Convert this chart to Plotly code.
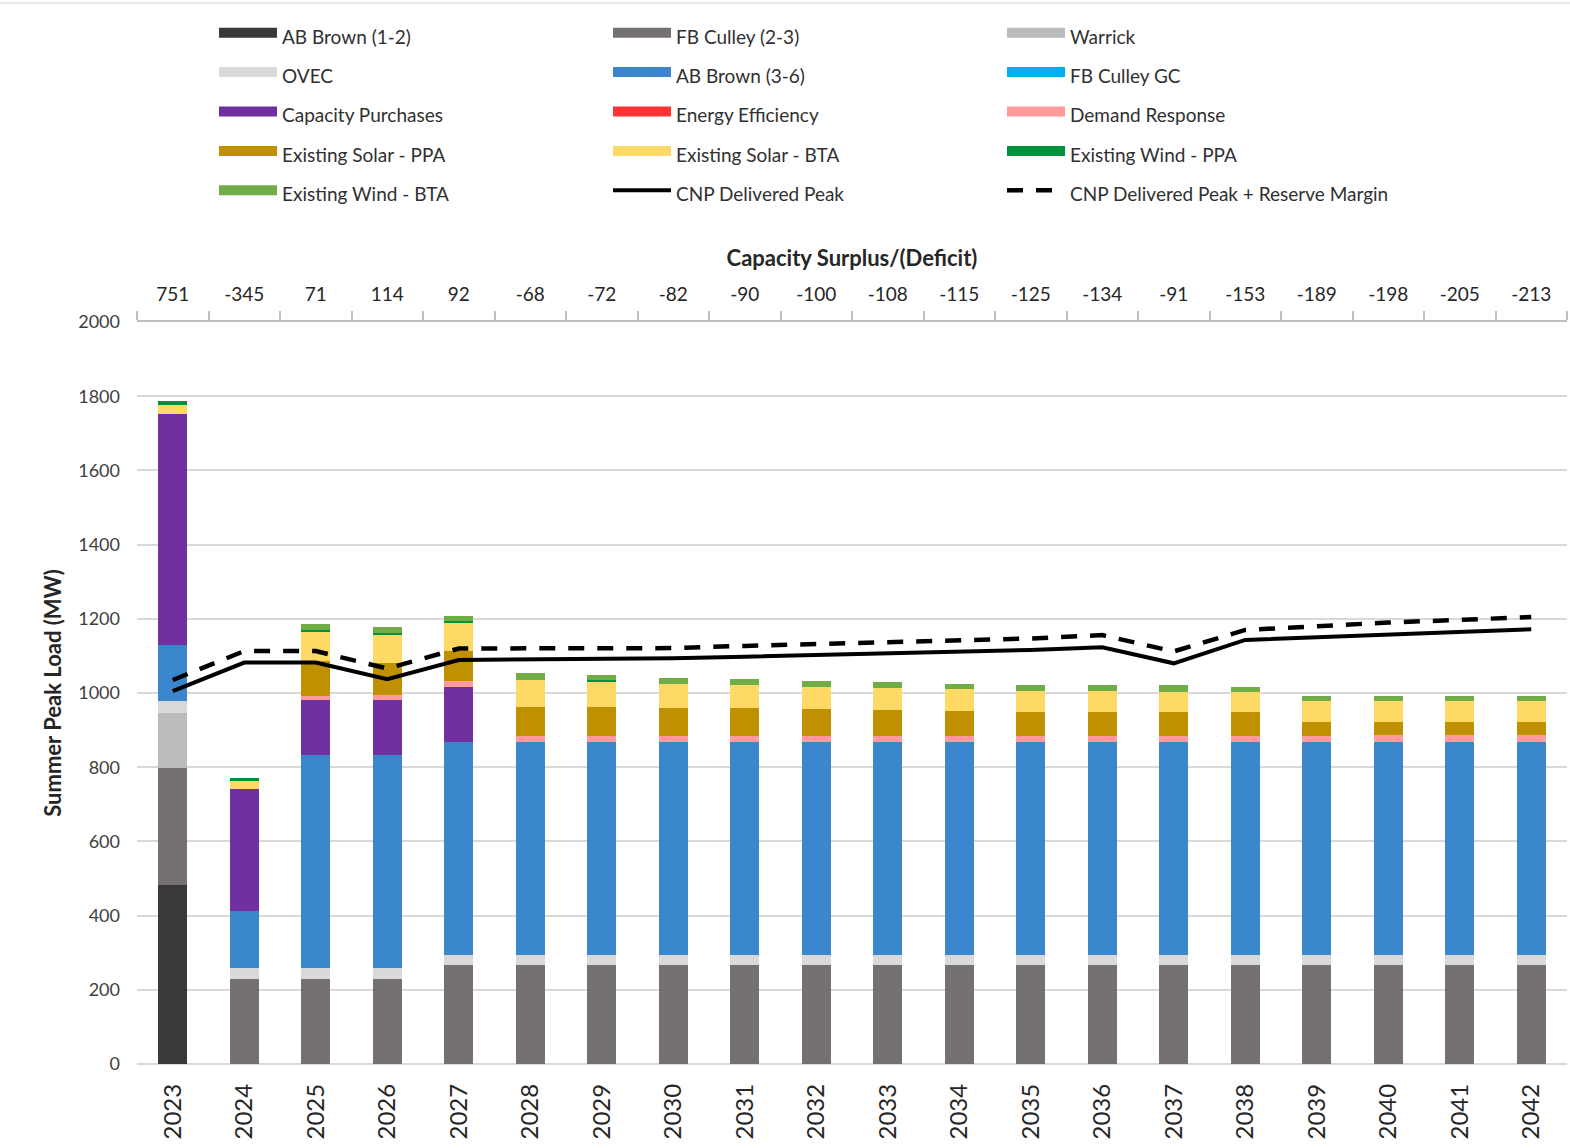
import plotly.graph_objects as go

years = [str(y) for y in range(2023, 2043)]
surplus_labels = ["751", "-345", "71", "114", "92", "-68", "-72", "-82", "-90", "-100",
                  "-108", "-115", "-125", "-134", "-91", "-153", "-189", "-198", "-205", "-213"]

ab_brown_12 = [482] + [0] * 19
fb_culley_23 = [316, 230, 230, 230] + [266] * 16
warrick = [148] + [0] * 19
ovec = [32, 30, 30, 30] + [28] * 16
ab_brown_36 = [151, 153, 572, 572] + [574] * 16
fb_culley_gc = [0] * 20
capacity_purchases = [622, 327, 149, 149, 149] + [0] * 15
energy_efficiency = [0] * 20
demand_response = [0, 0, 12, 14, 15, 16, 16, 16, 16, 17, 17, 17, 17, 17, 17, 17, 17, 20, 20, 20]
solar_ppa = [0, 0, 92, 86, 82, 79, 77, 76, 76, 72, 68, 67, 65, 65, 65, 65, 37, 34, 34, 34]
solar_bta = [25, 23, 81, 75, 74, 72, 69, 64, 61, 59, 60, 58, 56, 56, 54, 53, 56, 56, 56, 56]
wind_ppa = [10, 7, 3, 6, 6, 0, 4, 0, 0, 0, 0, 0, 0, 0, 0, 0, 0, 0, 0, 0]
wind_bta = [0, 0, 18, 15, 14, 18, 15, 16, 16, 16, 16, 15, 16, 16, 17, 14, 14, 14, 14, 14]

cnp_peak = [1005, 1082, 1082, 1037, 1089, 1090, 1092, 1094, 1098, 1102,
            1106, 1110, 1116, 1123, 1080, 1143, 1150, 1157, 1165, 1172]
cnp_peak_rm = [1035, 1113, 1113, 1066, 1120, 1120, 1120, 1121, 1127, 1132,
               1137, 1140, 1147, 1156, 1112, 1170, 1181, 1190, 1197, 1205]

series = [
    ("AB Brown (1-2)", ab_brown_12, "#3B3937"),
    ("FB Culley (2-3)", fb_culley_23, "#767171"),
    ("Warrick", warrick, "#BBBBBB"),
    ("OVEC", ovec, "#D9D9D9"),
    ("AB Brown (3-6)", ab_brown_36, "#3B87CD"),
    ("FB Culley GC", fb_culley_gc, "#00B0F0"),
    ("Capacity Purchases", capacity_purchases, "#7030A0"),
    ("Energy Efficiency", energy_efficiency, "#FF3333"),
    ("Demand Response", demand_response, "#FF9B9B"),
    ("Existing Solar - PPA", solar_ppa, "#BF9000"),
    ("Existing Solar - BTA", solar_bta, "#FFD966"),
    ("Existing Wind - PPA", wind_ppa, "#00913F"),
    ("Existing Wind - BTA", wind_bta, "#70AD47"),
]

FONT = "Lato"
LEG = '<span style="font-size:19px">%s</span>'

fig = go.Figure()
for name, vals, col in series:
    fig.add_trace(go.Bar(x=years, y=vals, name=name, marker=dict(color=col, line=dict(width=0)),
                         showlegend=False, legendgroup=name))
for name, vals, col in series:
    fig.add_trace(go.Scatter(x=[None], y=[None], mode="lines", name=LEG % name,
                             line=dict(color=col, width=11), legendgroup=name))

fig.add_trace(go.Scatter(x=years, y=cnp_peak, mode="lines", name=LEG % "CNP Delivered Peak",
                         line=dict(color="black", width=4)))
fig.add_trace(go.Scatter(x=years, y=cnp_peak_rm, mode="lines",
                         name=LEG % "CNP Delivered Peak + Reserve Margin",
                         line=dict(color="black", width=4.5, dash="16px,13px")))
fig.add_trace(go.Scatter(x=years, y=cnp_peak_rm, xaxis="x2", mode="lines", opacity=0,
                         showlegend=False, hoverinfo="skip"))

fig.update_layout(
    width=1570, height=1148,
    margin=dict(l=137, r=3, t=322, b=84),
    barmode="stack", bargap=0.6,
    plot_bgcolor="white", paper_bgcolor="white",
    font=dict(family=FONT, color="#262626"),
    legend=dict(orientation="h", xref="container", yref="container",
                x=214 / 1570, y=1 - 8 / 1148, xanchor="left", yanchor="top",
                entrywidth=321, entrywidthmode="pixels", itemwidth=58,
                bgcolor="rgba(0,0,0,0)",
                font=dict(size=28, family=FONT, color="#303030"), traceorder="normal"),
    xaxis=dict(type="category", categoryorder="array", categoryarray=years, automargin=False,
               tickangle=-90, tickfont=dict(size=24, color="#262626"), ticklabelstandoff=14,
               showline=False, showgrid=False, ticks="", range=[-0.5, 19.5]),
    xaxis2=dict(type="category", categoryorder="array", categoryarray=years, automargin=False,
                overlaying="x", side="top", anchor="y", range=[-0.5, 19.5],
                tickmode="array", tickvals=years, ticktext=surplus_labels,
                tickson="boundaries", ticks="outside", ticklen=9, tickcolor="#BFBFBF",
                tickwidth=1.5, ticklabelstandoff=12,
                showline=True, linecolor="#BFBFBF", linewidth=1.5, showgrid=False,
                tickfont=dict(size=19, color="#262626"),
                title=dict(text="<b>Capacity Surplus/(Deficit)</b>", font=dict(size=22, color="#262626"),
                           standoff=9)),
    yaxis=dict(range=[0, 2000], dtick=200, showgrid=True, gridcolor="#D9D9D9", gridwidth=1.5,
               zeroline=True, zerolinecolor="#D9D9D9", zerolinewidth=1.5, automargin=False,
               tickfont=dict(size=18, color="#404040"), ticks="", ticklabelstandoff=16,
               title=dict(text="<b>Summer Peak Load (MW)</b>", font=dict(size=22, color="#262626"),
                          standoff=10)),
)
fig.add_shape(type="line", xref="paper", yref="paper", x0=-137 / 1430, x1=1.0021,
              y0=1 + (322 - 3) / 742, y1=1 + (322 - 3) / 742,
              line=dict(color="#D0D0D0", width=1))

fig.write_html("out.html", config={"displayModeBar": False},
               post_script="document.body.style.margin='0';")
